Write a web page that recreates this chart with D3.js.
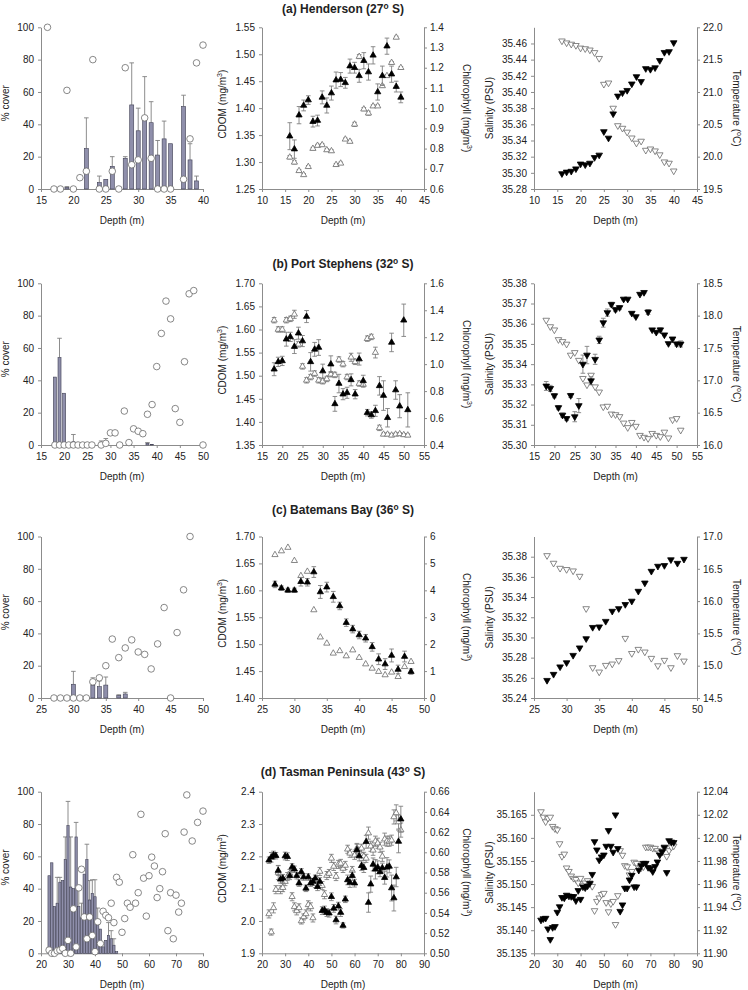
<!DOCTYPE html>
<html><head><meta charset="utf-8">
<script src="https://cdn.jsdelivr.net/npm/d3@7"></script>
<style>body{margin:0;background:#fff}svg{display:block}text{font-family:"Liberation Sans",Arial,sans-serif}</style>
</head><body><svg id="c" width="748" height="990"></svg>
<script>
// ================= DATA =================
// Tick label lists
const coverTicks = [0,20,40,60,80,100];
const xTicksHend1 = [15,20,25,30,35,40];
const xTicksHend = [10,15,20,25,30,35,40,45];
const xTicksPort1 = [15,20,25,30,35,40,45,50];
const xTicksPort = [15,20,25,30,35,40,45,50,55];
const xTicksBate = [25,30,35,40,45,50];
const xTicksTas1 = [20,30,40,50,60,70,80];
const xTicksTas = [20,30,40,50,60,70,80,90];
const hendCdomTicks = [1.25,1.30,1.35,1.40,1.45,1.50,1.55];
const hendChlTicks = [0.6,0.7,0.8,0.9,1.0,1.1,1.2,1.3,1.4];
const hendSalTicks = [35.28,35.30,35.32,35.34,35.36,35.38,35.40,35.42,35.44,35.46];
const hendTempTicks = [19.5,20.0,20.5,21.0,21.5,22.0];
const portCdomTicks = [1.35,1.40,1.45,1.50,1.55,1.60,1.65,1.70];
const portChlTicks = [0.4,0.6,0.8,1.0,1.2,1.4,1.6];
const portSalTicks = [35.30,35.31,35.32,35.33,35.34,35.35,35.36,35.37,35.38];
const portTempTicks = [16.0,16.5,17.0,17.5,18.0,18.5];
const bateCdomTicks = [1.40,1.45,1.50,1.55,1.60,1.65,1.70];
const bateChlTicks = [0,1,2,3,4,5,6];
const bateSalTicks = [35.24,35.26,35.28,35.30,35.32,35.34,35.36,35.38];
const bateTempTicks = [14.5,15.0,15.5,16.0,16.5,17.0];
const tasCdomTicks = [1.9,2.0,2.1,2.2,2.3,2.4];
const tasChlTicks = [0.50,0.52,0.54,0.56,0.58,0.60,0.62,0.64,0.66];
const tasSalTicks = [35.135,35.140,35.145,35.150,35.155,35.160,35.165];
const tasTempTicks = [11.90,11.92,11.94,11.96,11.98,12.00,12.02,12.04];

// Titles
const siteNames = ["(a) Henderson (27", "(b) Port Stephens (32", "(c) Batemans Bay (36", "(d) Tasman Peninsula (43"];

// ---- (a) Henderson ----
const hendBarDepth = [19,22,24,25,26,28,29,30,31,32,33,34,35,37,38,39];
const hendBar      = [1,25,4,6,14,19,52,36,43,41,21,31,28,51,18,5];
const hendBarErr   = [0.5,19,4,0,6,1,26,14,26.5,13,9,11,0,7,10,3];
const hendDotDepth = [16,17,18,19,20,21,22,23,24,25,26,27,28,29,30,31,32,33,34,35,37,38,39,40];
const hendDot      = [100,0,0,61,0,7,11,80,0,0,11,0,75,15,18,44,19,0,0,0,6,31,78,89];
const hendDepth = [16,17,18,19,20,21,22,23,24,25,26,27,28,29,30,31,32,33,34,35,36,37,38,39,40];
const hendCdom    = [1.348,1.324,1.387,1.405,1.415,1.375,1.377,1.420,1.405,1.428,1.452,1.453,1.447,1.478,1.475,1.460,1.488,1.467,1.498,1.430,1.460,1.515,1.463,1.440,1.420];
const hendCdomErr = [0.025,0.017,0.016,0.010,0.008,0.010,0.010,0.012,0.014,0.013,0.015,0.013,0.010,0.013,0.010,0.012,0.015,0.015,0.016,0.015,0.018,0.015,0.015,0.010,0.010];
const hendChl     = [0.757,0.732,0.690,0.670,0.710,0.800,0.815,0.818,0.793,0.788,0.720,0.727,0.846,0.835,0.920,1.255,0.995,0.975,1.010,1.010,1.110,1.160,1.225,1.350,1.200];
const hendChlErr  = [0.008,0.008,0.006,0.006,0.006,0.006,0.006,0.006,0.006,0.006,0.006,0.006,0.006,0.006,0.010,0.010,0.008,0.010,0.006,0.006,0.006,0.006,0.006,0.006,0.006];
const hendSal  = [35.299,35.301,35.302,35.305,35.311,35.310,35.312,35.319,35.322,35.351,35.343,35.373,35.395,35.399,35.402,35.410,35.419,35.413,35.429,35.428,35.430,35.439,35.449,35.450,35.461];
const hendTemp = [21.79,21.76,21.74,21.72,21.68,21.67,21.65,21.61,21.52,21.12,21.14,20.75,20.48,20.44,20.38,20.29,20.21,20.24,20.10,20.12,20.09,20.03,19.92,19.90,19.78];

// ---- (b) Port Stephens ----
const portBarDepth = [18,19,20,22,28,29,38,39];
const portBar      = [42,54,32,2,0.5,1,1,0.4];
const portBarErr   = [0,12,0,4.5,2,3,0.5,0];
const portDotDepth = [18,19,20,21,22,23,24,25,26,28,29,30,31,32,33,34,35,36,37,38,39,40,41,42,43,44,45,46,47,48,50];
const portDot      = [0,0,0,0,0,0,0,0,0,0,1,7.5,7.5,0,21,1.5,10,8.5,7,19,25,48.5,69,89,78,22.5,14,51.5,93.5,95.5,0];
const portCdomDepth = [18,19,20,21,22,23,24,25,26,27,28,29,30,32,33,34,35,36,37,38,39,40,41,42,43,44,45,46,47,48,49,50,51];
const portCdom      = [1.514,1.530,1.532,1.579,1.584,1.563,1.592,1.575,1.628,1.530,1.557,1.561,1.510,1.525,1.439,1.483,1.460,1.463,1.491,1.460,1.536,1.489,1.420,1.415,1.424,1.478,1.457,1.409,1.572,1.469,1.434,1.620,1.426];
const portCdomErr   = [0.014,0.010,0.010,0.015,0.010,0.015,0.013,0.012,0.013,0.020,0.015,0.017,0.015,0.018,0.016,0.020,0.012,0.012,0.013,0.010,0.013,0.012,0.007,0.007,0.012,0.020,0.032,0.020,0.020,0.020,0.025,0.035,0.037];
const portDepth = [18,19,20,21,22,23,24,25,26,27,28,29,30,31,32,33,34,35,36,37,38,39,40,41,42,43,44,45,46,47,48,49,50,51];
const portChl    = [1.326,1.257,1.257,1.326,1.336,1.370,1.147,0.983,0.880,0.904,0.930,0.880,0.873,0.890,0.925,0.920,1.034,1.000,0.904,1.051,1.017,0.856,0.849,1.189,1.202,1.086,0.527,0.479,0.479,0.472,0.479,0.482,0.475,0.472];
const portChlErr = [0.02,0.02,0.02,0.02,0.02,0.03,0.02,0.02,0.02,0.02,0.02,0.02,0.02,0.02,0.02,0.02,0.02,0.02,0.02,0.03,0.02,0.02,0.02,0.02,0.02,0.04,0.02,0.01,0.01,0.01,0.01,0.01,0.01,0.01];
const portSal    = [35.3292,35.3280,35.3244,35.3185,35.3148,35.3131,35.3245,35.3140,35.3195,35.3400,35.3445,35.3318,35.3424,35.3520,35.3605,35.3655,35.3696,35.3670,35.3680,35.3722,35.3722,35.3652,35.3635,35.3746,35.3755,35.3658,35.3570,35.3558,35.3570,35.3545,35.3502,35.3525,35.3500,35.3500];
const portSalErr = [0.0022,0.0015,0.001,0.001,0.001,0.001,0.001,0.0025,0.0035,0.0045,0.0043,0.002,0.0025,0.0018,0.0022,0.0018,0.001,0.001,0.001,0.0005,0.0005,0.0005,0.0005,0.0005,0.0005,0.0012,0.0005,0.0005,0.001,0.0005,0.0005,0.0005,0.001,0.0015];
const portTemp   = [17.93,17.83,17.78,17.63,17.60,17.56,17.39,17.43,17.31,17.03,16.93,17.08,16.90,16.82,16.59,16.60,16.48,16.47,16.44,16.34,16.27,16.35,16.29,16.15,16.12,16.10,16.18,16.15,16.13,16.20,16.11,16.39,16.41,16.23];

// ---- (c) Batemans Bay ----
const bateBarDepth = [30,33,34,35,37,38];
const bateBar      = [8.5,8,7,8,1.5,2.5];
const bateBarErr   = [8,4.5,3.5,5,0.5,1];
const bateDepth = [27,28,29,30,31,32,33,34,35,36,37,38,39,40,41,42,43,44,45,46,47,48];
const bateDot      = [0,0,0,0,0,0,10,12.5,20,36.5,25,31,36,28.5,27,18,33.5,56,0,40.5,67,100];
const bateCdom     = [1.611,1.604,1.600,1.600,1.616,1.615,1.634,1.597,1.606,1.588,1.571,1.540,1.528,1.517,1.511,1.495,1.472,1.463,1.479,1.453,1.477,1.449];
const bateCdomErr  = [0.006,0.004,0.004,0.004,0.008,0.007,0.010,0.012,0.009,0.010,0.007,0.007,0.007,0.007,0.007,0.008,0.010,0.010,0.012,0.008,0.010,0.005];
const bateChl      = [5.32,5.46,5.59,5.10,4.54,4.70,3.27,2.26,2.03,1.66,1.75,1.56,1.78,1.50,1.26,1.10,0.98,0.855,0.955,0.79,1.16,1.35];
const bateSal      = [35.2575,35.2635,35.2709,35.2750,35.2823,35.2897,35.2988,35.3100,35.3105,35.3160,35.3260,35.3286,35.3327,35.3360,35.3458,35.3540,35.3656,35.3706,35.3713,35.3770,35.3735,35.3775];
const bateTemp     = [16.705,16.587,16.509,16.490,16.468,16.385,15.884,14.970,14.903,15.006,15.027,15.080,15.424,15.190,15.254,15.213,15.115,15.000,15.084,14.970,15.156,15.073];

// ---- (d) Tasman Peninsula ----
const tasBarDepth = [23,24,25,26,27,28,29,30,31,32,33,34,35,36,37,38,39,40,41,42,43,44,45,46,47,48];
const tasBar      = [48,56,29,31,44,45,58,79,41,40,72,29,22,49,58,33,37,35,20,15,4,8,11,9,5,1];
const tasBarErr   = [0,0,0,16,3,0,14,15,31,0,9,11,9,0,9.5,12,8.5,10.5,8,0,0,0,8,5,4,0];
const tasDotDepth = [23,24,25,26,27,28,29,30,31,32,33,34,35,36,37,38,39,40,41,42,43,44,45,46,47,48,49,50,51,52,53,54,55,56,57,58,59,60,61,62,63,64,65,66,67,68,69,70,71,72,73,74,76,78,80];
const tasDot      = [2,0,0,1.5,2,3,0,8,0,27.5,4,40.5,52,22.5,9,22.5,11,1,19.5,6,26,23.5,22,31,19,47,44,13,21.5,31,28.5,61,31,37.5,86,46.5,23,48,59.5,54,34.5,40,50.5,74,14,37.5,9,36,25.5,31,75,98,69.5,81,88];
const tasDepth = [23,24,25,26,27,28,29,30,31,32,33,34,35,36,37,38,39,40,41,42,43,44,45,46,47,48,49,50,51,52,53,54,55,56,57,58,59,60,61,62,63,64,65,66,67,68,69,70,71,72,73,74,75,76,77,78,79,80];
const tasCdom    = [2.188,2.197,2.204,2.202,2.156,2.129,2.132,2.201,2.199,2.140,2.167,2.160,2.140,2.117,2.152,2.136,2.101,2.136,2.117,2.122,2.132,2.106,2.122,2.032,2.034,2.026,2.024,2.075,2.039,2.003,2.046,2.026,1.986,2.067,2.127,2.119,2.140,2.117,2.220,2.201,2.171,2.165,2.245,2.057,2.114,2.175,2.160,2.166,2.152,2.164,2.134,2.166,2.169,2.102,2.071,2.136,2.246,2.315];
const tasCdomErr = [0.010,0.015,0.012,0.010,0.015,0.012,0.012,0.012,0.012,0.012,0.010,0.010,0.010,0.010,0.010,0.010,0.010,0.010,0.010,0.010,0.010,0.012,0.012,0.012,0.012,0.012,0.012,0.012,0.012,0.012,0.012,0.012,0.008,0.010,0.015,0.015,0.015,0.012,0.020,0.015,0.015,0.015,0.020,0.030,0.025,0.020,0.030,0.020,0.015,0.015,0.020,0.030,0.020,0.040,0.040,0.030,0.035,0.040];
const tasChl     = [0.539,0.521,0.545,0.563,0.580,0.563,0.565,0.571,0.576,0.579,0.556,0.546,0.542,0.545,0.532,0.536,0.539,0.548,0.546,0.535,0.569,0.573,0.581,0.567,0.558,0.577,0.579,0.594,0.586,0.576,0.588,0.589,0.584,0.587,0.603,0.599,0.582,0.597,0.604,0.601,0.604,0.596,0.594,0.619,0.606,0.602,0.611,0.609,0.605,0.596,0.613,0.611,0.611,0.612,0.635,0.639,0.630,0.622];
const tasChlErr  = [0.004,0.003,0.005,0.004,0.007,0.004,0.004,0.004,0.004,0.004,0.004,0.004,0.004,0.004,0.003,0.003,0.004,0.004,0.004,0.004,0.004,0.004,0.004,0.004,0.004,0.004,0.004,0.004,0.004,0.004,0.004,0.004,0.004,0.004,0.004,0.004,0.004,0.004,0.004,0.004,0.004,0.004,0.004,0.006,0.005,0.005,0.005,0.005,0.005,0.005,0.006,0.005,0.005,0.005,0.007,0.008,0.007,0.007];
const tasSal     = [35.1422,35.1425,35.1426,35.1403,35.1380,35.1406,35.1408,35.1439,35.1451,35.1471,35.1470,35.1476,35.1474,35.1473,35.1473,35.1464,35.1486,35.1467,35.1494,35.1492,35.1496,35.1502,35.1521,35.1592,35.1574,35.1552,35.1559,35.1563,35.1582,35.1616,35.1582,35.1569,35.1650,35.1577,35.1441,35.1455,35.1491,35.1491,35.1509,35.1519,35.1494,35.1494,35.1530,35.1540,35.1545,35.1545,35.1536,35.1534,35.1527,35.1538,35.1548,35.1563,35.1570,35.1580,35.1525,35.1594,35.1591,35.1590];
const tasTemp    = [12.0227,12.018,12.014,12.017,12.018,12.010,12.008,12.007,11.995,11.984,11.986,11.974,11.971,11.967,11.965,11.964,11.961,11.965,11.959,11.961,11.963,11.960,11.958,11.937,11.945,11.948,11.951,11.952,11.944,11.936,11.943,11.945,11.925,11.950,11.989,11.985,11.976,11.975,11.968,11.971,11.979,11.978,11.974,11.974,11.975,11.992,11.992,11.992,11.991,11.991,11.989,11.987,11.988,11.991,11.984,11.989,11.992,11.993];

// ================= LAYOUT / STYLE =================
const cols = [{x0:41,x1:203},{x0:262,x1:424},{x0:534,x1:697}];
const rowsY = [{y0:27.3,y1:189},{y0:283.3,y1:445},{y0:536.5,y1:698},{y0:791.7,y1:953.3}];
const titleY = [12.5,267.5,514,776];
const AX = '#8c8c8c', TXT = '#222', MK = '#6a6a6a', ERR = '#808080';
const FONT = '"Liberation Sans",Arial,sans-serif';
const svg = d3.select('#c');
const f0 = d3.format('d'), f1 = d3.format('.1f'), f2 = d3.format('.2f'), f3 = d3.format('.3f');

function styleAxis(s){
  s.attr('font-family',FONT).attr('font-size',10);
  s.select('.domain').attr('stroke',AX).attr('stroke-width',1);
  s.selectAll('.tick line').attr('stroke',AX);
  s.selectAll('.tick text').attr('fill',TXT);
}
function label(x,y,rot,parts,opts){
  const t = svg.append('text').attr('transform',`translate(${x},${y}) rotate(${rot})`)
    .attr('text-anchor','middle').attr('font-size',(opts&&opts.size)||10).attr('fill',TXT)
    .attr('font-weight',(opts&&opts.bold)?'bold':'normal');
  let up = false;
  parts.forEach(p=>{
    const sup = Array.isArray(p);
    const txt = sup ? p[0] : p;
    const ts = t.append('tspan').text(txt);
    if (sup){ ts.attr('font-size',((opts&&opts.size)||10)*0.7).attr('dy',-4); up = true; }
    else if (up){ ts.attr('dy',4); up = false; }
  });
  return t;
}
function frame(col,row,xDom,xTicks){
  const c = cols[col], r = rowsY[row];
  const x = d3.scaleLinear().domain(xDom).range([c.x0,c.x1]);
  svg.append('g').attr('transform',`translate(0,${r.y1})`)
    .call(d3.axisBottom(x).tickValues(xTicks).tickFormat(f0).tickSize(3).tickSizeOuter(0).tickPadding(5))
    .call(styleAxis);
  label((c.x0+c.x1)/2, r.y1+34.5, 0, ['Depth (m)']);
  return {x,c,r};
}
function leftAxis(p,dom,ticks,fmt){
  const y = d3.scaleLinear().domain(dom).range([p.r.y1,p.r.y0]);
  svg.append('g').attr('transform',`translate(${p.c.x0},0)`)
    .call(d3.axisLeft(y).tickValues(ticks).tickFormat(fmt).tickSize(3).tickSizeOuter(0).tickPadding(4))
    .call(styleAxis);
  return y;
}
function rightAxis(p,dom,ticks,fmt){
  const y = d3.scaleLinear().domain(dom).range([p.r.y1,p.r.y0]);
  svg.append('g').attr('transform',`translate(${p.c.x1},0)`)
    .call(d3.axisRight(y).tickValues(ticks).tickFormat(fmt).tickSize(3).tickSizeOuter(0).tickPadding(3))
    .call(styleAxis);
  return y;
}
function triPath(s,down){
  const h = s*0.866;
  return down ? `M${-s/2},${-h/3}L${s/2},${-h/3}L0,${2*h/3}Z` : `M0,${-2*h/3}L${s/2},${h/3}L${-s/2},${h/3}Z`;
}
function errBars(p,y,depths,vals,errs,cap){
  const g = svg.append('g').attr('stroke',ERR).attr('stroke-width',0.9).attr('fill','none');
  depths.forEach((d,i)=>{
    const e = errs[i]; if(!e) return;
    const cx = p.x(d), a = y(vals[i]-e), b = y(vals[i]+e);
    g.append('line').attr('x1',cx).attr('x2',cx).attr('y1',a).attr('y2',b);
    g.append('line').attr('x1',cx-cap).attr('x2',cx+cap).attr('y1',a).attr('y2',a);
    g.append('line').attr('x1',cx-cap).attr('x2',cx+cap).attr('y1',b).attr('y2',b);
  });
}
function markers(p,y,depths,vals,filled,down,size){
  svg.append('g').selectAll('path').data(depths).join('path')
    .attr('transform',(d,i)=>`translate(${p.x(d)},${y(vals[i])})`)
    .attr('d',triPath(size,down))
    .attr('fill',filled?'#000':'#fff')
    .attr('stroke',filled?'#000':MK).attr('stroke-width',0.8);
}
function coverPanel(row,xDom,xTicks,barDepth,bar,barErr,dotDepth,dot,bw){
  const p = frame(0,row,xDom,xTicks);
  const y = leftAxis(p,[0,100],coverTicks,f0);
  const w = bw*(p.x(1)-p.x(0));
  const eg = svg.append('g').attr('stroke',ERR).attr('stroke-width',0.9);
  barDepth.forEach((d,i)=>{
    if(!barErr[i]) return;
    const cx = p.x(d), t = y(bar[i]+barErr[i]);
    eg.append('line').attr('x1',cx).attr('x2',cx).attr('y1',y(bar[i])).attr('y2',t);
    eg.append('line').attr('x1',cx-2.3).attr('x2',cx+2.3).attr('y1',t).attr('y2',t);
  });
  svg.append('g').selectAll('rect').data(barDepth).join('rect')
    .attr('x',d=>p.x(d)-w/2).attr('width',w)
    .attr('y',(d,i)=>y(bar[i])).attr('height',(d,i)=>y(0)-y(bar[i]))
    .attr('fill','#8f8fab').attr('stroke','#3e3e52').attr('stroke-width',0.6);
  svg.append('g').selectAll('circle').data(dotDepth).join('circle')
    .attr('cx',d=>p.x(d)).attr('cy',(d,i)=>y(dot[i])).attr('r',3.3)
    .attr('fill','#fff').attr('stroke',MK).attr('stroke-width',0.8);
  const mid = (p.r.y0+p.r.y1)/2;
  label(8.5, mid-5, -90, ['% cover']);
}
function cdomPanel(row,xDom,xTicks,lDom,lTicks,lFmt,rDom,rTicks,rFmt,cdDepth,cd,cdErr,chDepth,ch,chErr){
  const p = frame(1,row,xDom,xTicks);
  const yl = leftAxis(p,lDom,lTicks,lFmt);
  const yr = rightAxis(p,rDom,rTicks,rFmt);
  if (chErr) errBars(p,yr,chDepth,ch,chErr,2.3);
  markers(p,yr,chDepth,ch,false,false,6.2);
  errBars(p,yl,cdDepth,cd,cdErr,2.3);
  markers(p,yl,cdDepth,cd,true,false,6.2);
  const mid = (p.r.y0+p.r.y1)/2;
  label(226, mid-4, -90, ['CDOM (mg/m',['3'],')']);
  label(463, mid, 90, ['Chlorophyll (mg/m',['3'],')']);
  const c = p.c;
  label((c.x0+c.x1)/2+0, titleY[row], 0, [siteNames[row],['o'],' S)'], {bold:true,size:12});
}
function salPanel(row,xDom,xTicks,lDom,lTicks,lFmt,rDom,rTicks,rFmt,depth,sal,salErr,temp){
  const p = frame(2,row,xDom,xTicks);
  const yl = leftAxis(p,lDom,lTicks,lFmt);
  const yr = rightAxis(p,rDom,rTicks,rFmt);
  markers(p,yr,depth,temp,false,true,6.6);
  if (salErr) errBars(p,yl,depth,sal,salErr,2.3);
  markers(p,yl,depth,sal,true,true,6.6);
  const mid = (p.r.y0+p.r.y1)/2;
  label(492.5, mid, -90, ['Salinity (PSU)']);
  label(732.5, mid, 90, ['Temperature (',['o'],'C)']);
}

// ================= DRAW =================
coverPanel(0,[15,40],xTicksHend1,hendBarDepth,hendBar,hendBarErr,hendDotDepth,hendDot,0.62);
cdomPanel(0,[10,45],xTicksHend,[1.25,1.55],hendCdomTicks,f2,[0.6,1.4],hendChlTicks,f1,hendDepth,hendCdom,hendCdomErr,hendDepth,hendChl,hendChlErr);
salPanel(0,[10,45],xTicksHend,[35.28,35.48],hendSalTicks,f2,[19.5,22.0],hendTempTicks,f1,hendDepth,hendSal,null,hendTemp);

coverPanel(1,[15,50],xTicksPort1,portBarDepth,portBar,portBarErr,portDotDepth,portDot,0.65);
cdomPanel(1,[15,55],xTicksPort,[1.35,1.70],portCdomTicks,f2,[0.4,1.6],portChlTicks,f1,portCdomDepth,portCdom,portCdomErr,portDepth,portChl,portChlErr);
salPanel(1,[15,55],xTicksPort,[35.30,35.38],portSalTicks,f2,[16.0,18.5],portTempTicks,f1,portDepth,portSal,portSalErr,portTemp);

coverPanel(2,[25,50],xTicksBate,bateBarDepth,bateBar,bateBarErr,bateDepth,bateDot,0.62);
cdomPanel(2,[25,50],xTicksBate,[1.40,1.70],bateCdomTicks,f2,[0,6],bateChlTicks,f0,bateDepth,bateCdom,bateCdomErr,bateDepth,bateChl,null);
salPanel(2,[25,50],xTicksBate,[35.24,35.40],bateSalTicks,f2,[14.5,17.0],bateTempTicks,f1,bateDepth,bateSal,null,bateTemp);

coverPanel(3,[20,80],xTicksTas1,tasBarDepth,tasBar,tasBarErr,tasDotDepth,tasDot,0.85);
cdomPanel(3,[20,90],xTicksTas,[1.9,2.4],tasCdomTicks,f1,[0.50,0.66],tasChlTicks,f2,tasDepth,tasCdom,tasCdomErr,tasDepth,tasChl,tasChlErr);
salPanel(3,[20,90],xTicksTas,[35.135,35.170],tasSalTicks,f3,[11.90,12.04],tasTempTicks,f2,tasDepth,tasSal,null,tasTemp);
</script></body></html>
